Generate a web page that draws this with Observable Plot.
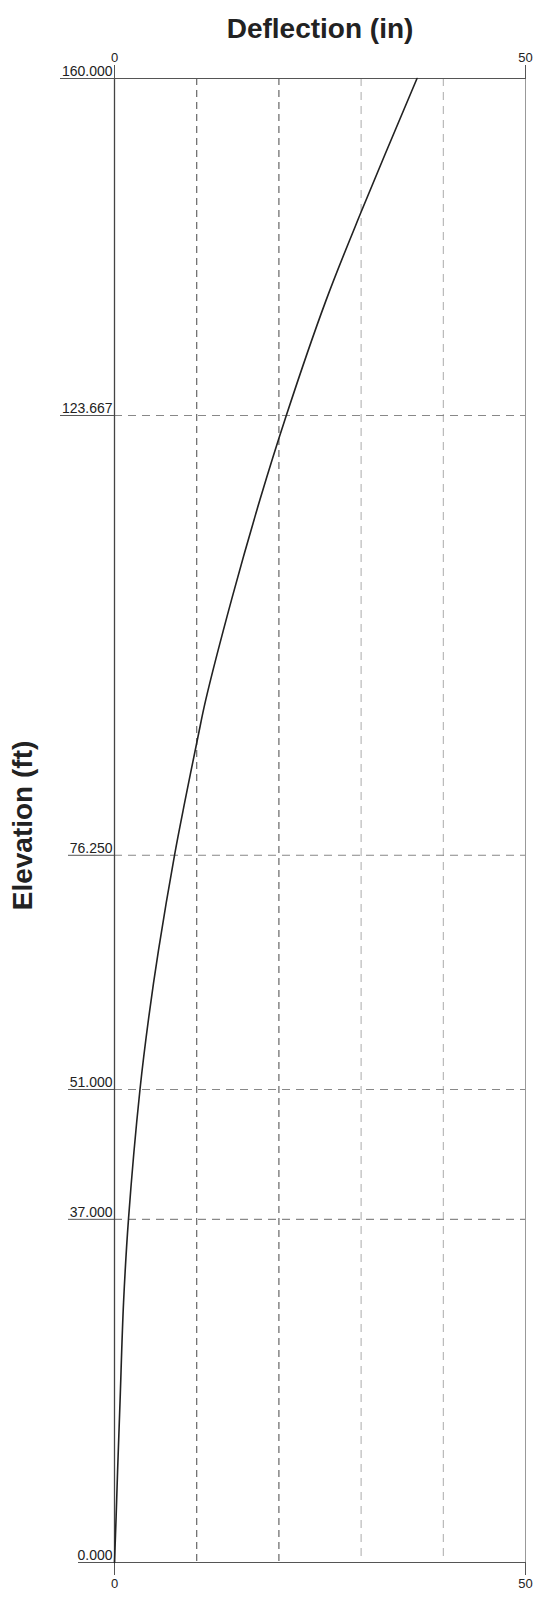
<!DOCTYPE html>
<html>
<head>
<meta charset="utf-8">
<script src="https://cdn.jsdelivr.net/npm/d3@7"></script>
<script src="https://cdn.jsdelivr.net/npm/@observablehq/plot@0.6"></script>
<style>
  html, body { margin: 0; padding: 0; background: #fff; }
  #chart svg { display: block; }
</style>
</head>
<body>
<div id="chart"></div>
<script>
// Data
const elevation  = [0, 5, 10, 17.5, 28, 37, 51, 59, 66, 76.25, 82, 89, 93, 104, 114.6, 123.667, 136, 145.6, 160];
const deflection = [0, 0.2, 0.38, 0.68, 1.1, 1.7, 3.1, 4.2, 5.35, 7.3, 8.55, 10.15, 11.1, 14.3, 17.7, 20.9, 25.7, 30, 36.8];
const xTicks = [0, 50];
const gridDark = [10, 20];
const gridLight = [30, 40];
const levelLines = [123.667, 76.25, 51, 37];
const elevLabels7 = [160, 123.667];
const elevLabels6 = [76.25, 51, 37];
const elevLabels5 = [0];
const elevLabels = [160, 123.667, 76.25, 51, 37, 0];
const titleText = "Deflection (in)";
const yTitleText = "Elevation (ft)";

const data = elevation.map((e, i) => ({elev: e, defl: deflection[i]}));
const fmt = d3.format(".3f");

function elevTicks(ticks, size) {
  return Plot.axisY(ticks, {
    anchor: "left", tickSize: size, tickPadding: 0, tickFormat: () => "",
    label: null, stroke: "#555", strokeWidth: 1
  });
}

const chart = Plot.plot({
  width: 537,
  height: 1598,
  marginTop: 78,
  marginBottom: 36,
  marginLeft: 114,
  marginRight: 12,
  style: {fontFamily: "'Liberation Sans', Arial, sans-serif", color: "#222", background: "#fff"},
  x: {domain: [0, 50], axis: null},
  y: {domain: [0, 160], axis: null},
  marks: [
    Plot.ruleX(gridDark, {stroke: "#666", strokeWidth: 1.2, strokeDasharray: "7,5"}),
    Plot.ruleX(gridLight, {stroke: "#aaa", strokeWidth: 1, strokeDasharray: "8,6"}),
    Plot.ruleY(levelLines, {x1: 0, x2: 50, stroke: "#888", strokeWidth: 1.1, strokeDasharray: "8,6"}),
    Plot.ruleY([160, 0], {x1: 0, x2: 50, stroke: "#555", strokeWidth: 1.2}),
    Plot.ruleX([50], {stroke: "#999", strokeWidth: 1}),
    Plot.ruleX([0], {stroke: "#444", strokeWidth: 1.3}),
    Plot.axisX(xTicks, {anchor: "top", tickSize: 14, tickPadding: 3, fontSize: 13, stroke: "#555", fill: "#222", label: null}),
    Plot.axisX(xTicks, {anchor: "bottom", tickSize: 13, tickPadding: 3, fontSize: 13, stroke: "#555", fill: "#222", label: null}),
    elevTicks(elevLabels7, 54),
    elevTicks(elevLabels6, 46),
    elevTicks(elevLabels5, 36),
    Plot.text(elevLabels, {x: 0, y: d => d, text: d => fmt(d), textAnchor: "end", dx: -2, dy: -7, fontSize: 14, fill: "#222"}),
    Plot.line(data, {x: "defl", y: "elev", curve: "catmull-rom", stroke: "#222", strokeWidth: 1.6}),
    Plot.text([titleText], {frameAnchor: "top", dy: -49, lineAnchor: "middle", fontSize: 28, fontWeight: "bold", fill: "#222"}),
    Plot.text([yTitleText], {frameAnchor: "left", dx: -91, dy: 5, rotate: -90, lineAnchor: "middle", textAnchor: "middle", fontSize: 28, fontWeight: "bold", fill: "#222"})
  ]
});
document.getElementById("chart").appendChild(chart);
</script>
</body>
</html>
